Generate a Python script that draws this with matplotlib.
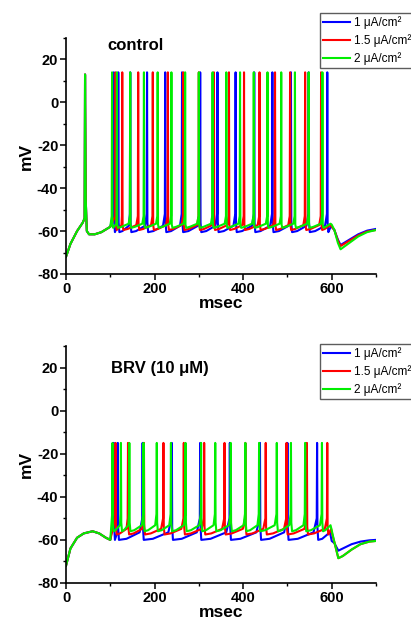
import matplotlib
matplotlib.use("Agg")
import matplotlib.pyplot as plt
from matplotlib.ticker import MultipleLocator

plt.rcParams['font.family'] = ['Liberation Sans', 'DejaVu Sans']
plt.rcParams['axes.unicode_minus'] = False

# ---------------- data ----------------
labels = ["1 μA/cm²", "1.5 μA/cm²", "2 μA/cm²"]
colors = ["#0000ff", "#ff0000", "#00ee00"]

# control panel: spike times (ms)
ctrl_spikes_1 = [108, 118, 145, 183, 224, 262, 303, 342, 383, 425, 466, 508, 548, 590]
ctrl_spikes_15 = [112, 127, 163, 196, 230, 265, 300, 334, 368, 402, 437, 472, 506, 540, 576]
ctrl_spikes_2 = [104, 115, 145, 176, 207, 238, 269, 300, 331, 362, 393, 424, 455, 486, 517, 548, 579]
ctrl_peak = [14, 14, 14]
ctrl_ahp = [-60.5, -59.5, -58.5]
ctrl_thr = [-52, -53, -53]
# pre-stimulus trace (time, mV), identical for all currents
ctrl_pre_t = [0, 10, 25, 38, 42, 43, 44.5, 47, 52, 65, 80, 100]
ctrl_pre_v = [-72, -66, -60, -56, -54, 13, -45, -60, -61.5, -61.5, -60.5, -58]
# post-stimulus trace
ctrl_post_t = [600, 606, 614, 620, 640, 660, 680, 700]
ctrl_post_v = [[-58, -59.5, -64, -66.5, -64, -61.5, -59.8, -59],
               [-58, -59.5, -64.5, -67, -64.5, -62, -60.2, -59.5],
               [-57, -59.5, -65.5, -68.5, -65.5, -62.5, -60.5, -59.5]]

# BRV panel
brv_spikes_1 = [108, 117, 173, 239, 303, 370, 438, 500, 567]
brv_spikes_15 = [112, 140, 176, 220, 266, 312, 358, 405, 451, 498, 544, 590]
brv_spikes_2 = [105, 124, 143, 175, 205, 237, 270, 305, 337, 372, 405, 436, 476, 508, 540, 578]
brv_peak = [-15, -15, -15]
brv_ahp = [-60, -57.5, -56]
brv_thr = [-50, -50, -48]
brv_pre_t = [0, 10, 25, 40, 60, 75, 90, 100]
brv_pre_v = [-72, -64, -59, -57, -56, -57, -59, -60]
brv_post_t = [600, 606, 615, 625, 645, 665, 685, 700]
brv_post_v = [[-60.5, -61.5, -65, -64, -62, -60.8, -60.2, -60],
              [-56.5, -61, -68.5, -67.5, -64.5, -62, -60.8, -60.5],
              [-55.5, -61, -68.5, -67.5, -64.5, -62, -60.8, -60.5]]


def build_trace(pre_t, pre_v, spikes, peak, ahp, thr, post_t, post_v):
    t = list(pre_t)
    v = list(pre_v)
    for i, ts in enumerate(spikes):
        t_next = spikes[i + 1] if i + 1 < len(spikes) else post_t[0]
        isi = t_next - ts
        t += [ts - 0.8, ts, ts + 0.8, ts + 2.5]
        v += [thr, peak, thr - 4, ahp]
        if isi > 8:
            t += [ts + 0.35 * isi, t_next - 0.12 * isi]
            v += [ahp + 0.5, ahp + 0.35 * (thr - ahp)]
    t += list(post_t)
    v += list(post_v)
    return t, v


fig = plt.figure(figsize=(4.11, 6.19), dpi=100)

panels = [
    dict(rect=[0.1606, 0.5574, 0.7542, 0.3812], spikes=[ctrl_spikes_1, ctrl_spikes_15, ctrl_spikes_2],
         peak=ctrl_peak, ahp=ctrl_ahp, thr=ctrl_thr, pre=(ctrl_pre_t, ctrl_pre_v),
         post_t=ctrl_post_t, post_v=ctrl_post_v, title="control", title_x=0.135, title_y=0.97,
         leg_y=1 - 13 / 619),
    dict(rect=[0.1606, 0.0582, 0.7542, 0.3829], spikes=[brv_spikes_1, brv_spikes_15, brv_spikes_2],
         peak=brv_peak, ahp=brv_ahp, thr=brv_thr, pre=(brv_pre_t, brv_pre_v),
         post_t=brv_post_t, post_v=brv_post_v, title="BRV (10 μM)", title_x=0.145, title_y=0.907,
         leg_y=1 - 344 / 619),
]

for p in panels:
    ax = fig.add_axes(p['rect'])
    handles = []
    for k in range(3):
        t, v = build_trace(p['pre'][0], p['pre'][1], p['spikes'][k], p['peak'][k],
                           p['ahp'][k], p['thr'][k], p['post_t'], p['post_v'][k])
        h, = ax.plot(t, v, color=colors[k], lw=1.5, label=labels[k])
        handles.append(h)
    ax.set_xlim(0, 700)
    ax.set_ylim(-80, 30)
    ax.xaxis.set_major_locator(MultipleLocator(200))
    ax.xaxis.set_minor_locator(MultipleLocator(100))
    ax.yaxis.set_major_locator(MultipleLocator(20))
    ax.yaxis.set_minor_locator(MultipleLocator(10))
    for s in ['top', 'right']:
        ax.spines[s].set_visible(False)
    for s in ['left', 'bottom']:
        ax.spines[s].set_linewidth(1.2)
    ax.tick_params(which='major', direction='out', length=4, width=1.1, labelsize=10.5, pad=1.5)
    ax.tick_params(which='minor', direction='out', length=2.5, width=1.0)
    for lab in ax.get_xticklabels() + ax.get_yticklabels():
        lab.set_fontweight('bold')
    ax.set_xlabel("msec", fontsize=12.5, fontweight='bold', labelpad=0)
    ax.set_ylabel("mV", fontsize=12.5, fontweight='bold', labelpad=2)
    ax.text(p['title_x'], p['title_y'], p['title'], transform=ax.transAxes, fontsize=12,
            fontweight='bold', ha='left', va='center')
    fig.legend(handles=handles, loc='upper left', bbox_to_anchor=(320 / 411, p['leg_y']),
               bbox_transform=fig.transFigure, frameon=True, fancybox=False,
               edgecolor='#333333', fontsize=8.5, handlelength=2.3, handletextpad=0.35,
               labelspacing=0.45, borderpad=0.25, borderaxespad=0)

fig.savefig("out.png", dpi=100)
